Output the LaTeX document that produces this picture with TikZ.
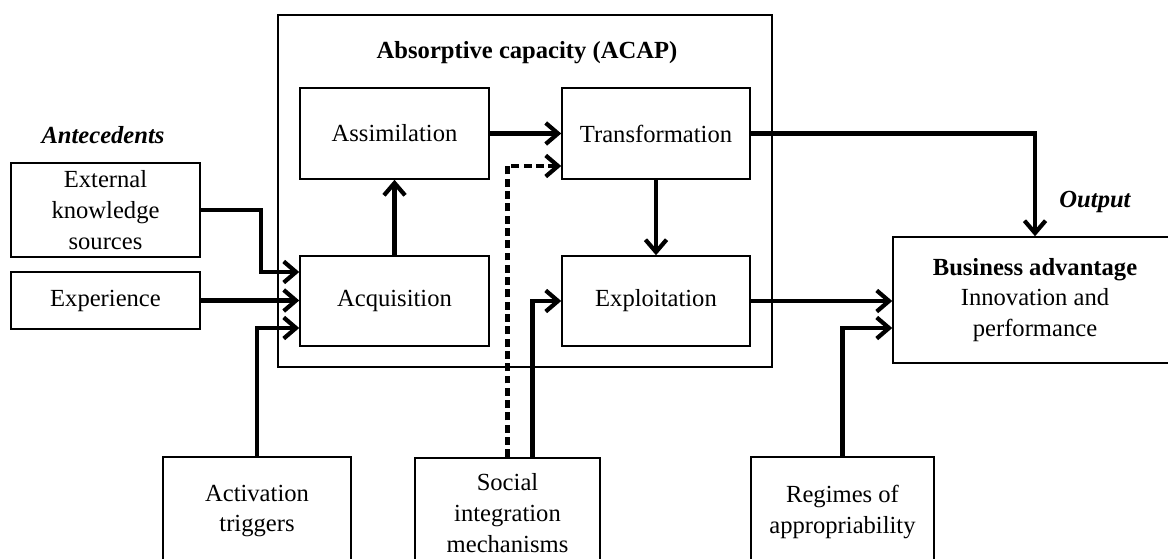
\documentclass[tikz,border=0pt]{standalone}
\usepackage{fontspec}
\setmainfont{Liberation Serif}
\usetikzlibrary{arrows.meta,calc}

\begin{document}
\begin{tikzpicture} [
            x=0.02cm, y=-0.02cm,
            every node/.style = {font=\fontsize{14}{17.5}\selectfont, align=center},
            box/.style = {draw=black, line width=0.9pt, rectangle, inner sep=2pt},
            lbl/.style = {font=\fontsize{14}{17.5}\selectfont\bfseries\itshape},
            conn/.style = {line width=2.4pt, -{Straight Barb[length=7pt,width=12pt]}},
        ]

            \useasboundingbox (0,0) rectangle (1168,558);
            \clip (0,0) rectangle (1168,558);

            \node[box, minimum width=9.88cm, minimum height=7.04cm] (ACAP) at (525,191) {};
            \node[font=\fontsize{14}{17.5}\selectfont\bfseries] (title) at (527,53) {Absorptive capacity (ACAP)};

            \node[box, minimum width=3.78cm, minimum height=1.82cm] (Assim)  at (394.5,133.5) {Assimilation};
            \node[box, minimum width=3.76cm, minimum height=1.82cm] (Transf) at (656,133.5)   {Transformation};
            \node[box, minimum width=3.78cm, minimum height=1.80cm] (Acq)    at (394.5,301)   {Acquisition};
            \node[box, minimum width=3.76cm, minimum height=1.80cm] (Expl)   at (656,301)     {Exploitation};

            \node[lbl] (ante) at (103,135) {Antecedents};
            \node[box, minimum width=3.78cm, minimum height=1.88cm] (Ext)   at (105.5,210)   {External\\knowledge\\sources};
            \node[box, minimum width=3.78cm, minimum height=1.14cm] (Exper) at (105.5,300.5) {Experience};

            \node[box, minimum width=3.76cm, minimum height=2.16cm] (Activ)  at (257,511)   {Activation\\triggers};
            \node[box, minimum width=3.70cm, minimum height=2.20cm] (Social) at (507.5,513) {Social\\integration\\mechanisms};
            \node[box, minimum width=3.66cm, minimum height=2.20cm] (Reg)    at (842.5,512) {Regimes of\\appropriability};

            \node[lbl] (out) at (1095,202) {Output};
            \node[box, minimum width=5.68cm, minimum height=2.52cm] (Bus) at (1035,300) {\textbf{Business advantage}\\Innovation and\\performance};

            \draw[conn] (Ext.east) -- +(60,0) |- ($(Acq.west)+(0,-29)$);
            \draw[conn] (Exper.east) -- (Exper.east -| Acq.west);
            \draw[conn] (Activ.north) |- ($(Acq.west)+(0,27)$);
            \draw[conn] (Acq.north) -- (Assim.south);
            \draw[conn] (Assim.east) -- (Transf.west);
            \draw[conn] (Transf.south) -- (Expl.north);
            \draw[conn, dash pattern=on 4.5pt off 2.5pt] (Social.north) |- ($(Transf.west)+(0,32.5)$);
            \draw[conn] ($(Social.north)+(25,0)$) |- (Expl.west);
            \draw[conn] (Transf.east) -| (Bus.north);
            \draw[conn] (Expl.east) -- (Expl.east -| Bus.west);
            \draw[conn] (Reg.north) |- ($(Bus.west)+(0,28)$);
        \end{tikzpicture}
\end{document}
